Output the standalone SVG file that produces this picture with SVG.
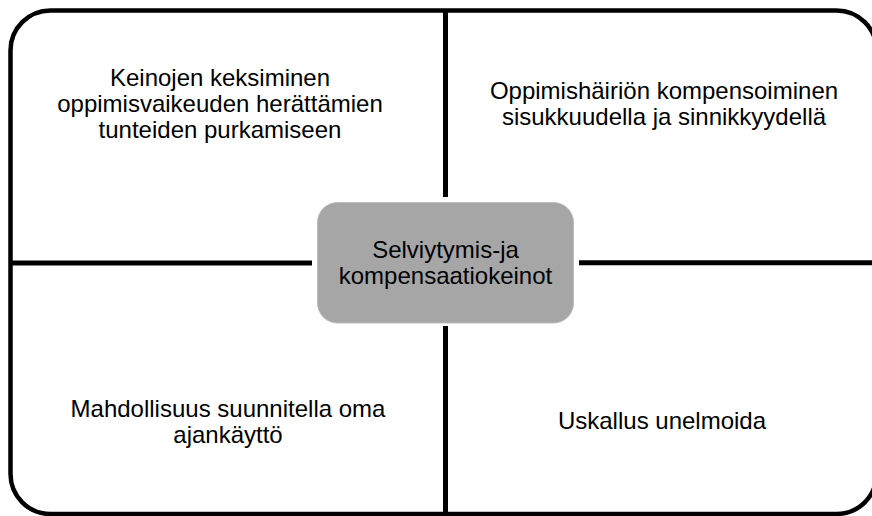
<svg xmlns="http://www.w3.org/2000/svg" width="872" height="516" viewBox="0 0 872 516">
<style>
.t{font-family:"Liberation Sans",Arial,sans-serif;font-size:24px;fill:#000;text-anchor:middle}
.ln{stroke:#000;stroke-width:5;fill:none}
</style>
<rect width="872" height="516" fill="#fff"/>
<g id="frame"><rect x="10.5" y="10.5" width="866" height="503.5" rx="40" ry="40" fill="none" stroke="#000" stroke-width="4.5"/></g>
<g id="connectors">
<line class="ln" x1="10" y1="263" x2="312" y2="263"/>
<line class="ln" x1="579" y1="262.7" x2="872" y2="262.7"/>
<line class="ln" x1="445.5" y1="10" x2="445.5" y2="197"/>
<line class="ln" x1="445.5" y1="326" x2="445.5" y2="516"/>
</g>
<g id="center">
<rect x="317.5" y="202.5" width="256" height="120.5" rx="20" ry="20" fill="#a6a6a6" stroke="#bdbdbd" stroke-width="1"/>
<text class="t" x="445.5" y="258">Selviytymis-ja</text>
<text class="t" x="445.5" y="284">kompensaatiokeinot</text>
</g>
<g id="topleft">
<text class="t" x="220" y="86">Keinojen keksiminen</text>
<text class="t" x="220" y="112">oppimisvaikeuden herättämien</text>
<text class="t" x="220" y="138">tunteiden purkamiseen</text>
</g>
<g id="topright">
<text class="t" x="664" y="99">Oppimishäiriön kompensoiminen</text>
<text class="t" x="664" y="125">sisukkuudella ja sinnikkyydellä</text>
</g>
<g id="bottomleft">
<text class="t" x="228" y="417">Mahdollisuus suunnitella oma</text>
<text class="t" x="228" y="443">ajankäyttö</text>
</g>
<g id="bottomright">
<text class="t" x="662" y="429">Uskallus unelmoida</text>
</g>
</svg>
